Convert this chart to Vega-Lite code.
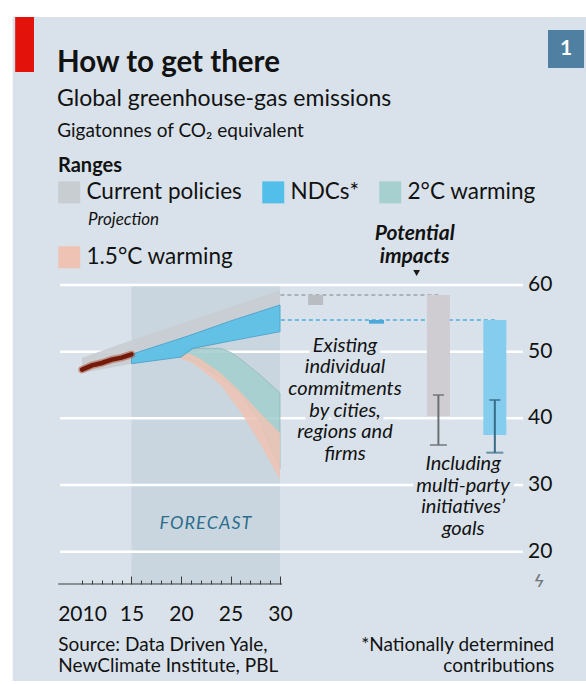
{
  "$schema": "https://vega.github.io/schema/vega-lite/v6.json",
  "width": 463,
  "height": 299,
  "autosize": {"type": "none"},
  "padding": {"left": 60, "top": 285, "right": 63, "bottom": 100},
  "background": "#ffffff",
  "title": {
    "text": "How to get there",
    "subtitle": "Global greenhouse-gas emissions",
    "anchor": "start",
    "frame": "group",
    "orient": "top",
    "offset": -95,
    "dx": -3,
    "font": "Lato",
    "fontSize": 29.5,
    "fontWeight": "bold",
    "color": "#121212",
    "subtitleFont": "Lato",
    "subtitleFontSize": 23,
    "subtitleColor": "#121212",
    "subtitlePadding": 10
  },
  "config": {
    "view": {"stroke": null},
    "font": "Lato",
    "text": {"font": "Lato", "color": "#121212"}
  },
  "resolve": {"axis": {"x": "independent"}},
  "datasets": {
    "forecast": [{"period": "Forecast", "start": 2015, "end": 2030}],
    "grid": [{"value": 20}, {"value": 30}, {"value": 40}, {"value": 50}, {"value": 60}],
    "history": [
      {"year": 2010, "emissions": 47.3},
      {"year": 2011, "emissions": 47.95},
      {"year": 2012, "emissions": 48.3},
      {"year": 2013, "emissions": 48.8},
      {"year": 2014, "emissions": 49.1},
      {"year": 2015, "emissions": 49.6}
    ],
    "bands": [
      {"scenario": "Current policies", "year": 2010, "low": 46.8, "high": 49.1},
      {"scenario": "Current policies", "year": 2015, "low": 48.2, "high": 51.7},
      {"scenario": "Current policies", "year": 2020, "low": 49.3, "high": 54.2},
      {"scenario": "Current policies", "year": 2025, "low": 51.8, "high": 56.7},
      {"scenario": "Current policies", "year": 2030, "low": 53.5, "high": 59.2},
      {"scenario": "NDCs*", "year": 2015, "low": 48.2, "high": 49.6},
      {"scenario": "NDCs*", "year": 2020, "low": 49.2, "high": 52.0},
      {"scenario": "NDCs*", "year": 2021.2, "low": 50.5, "high": 52.6},
      {"scenario": "NDCs*", "year": 2025, "low": 51.6, "high": 54.6},
      {"scenario": "NDCs*", "year": 2030, "low": 53.0, "high": 57.0},
      {"scenario": "2°C warming", "year": 2020, "low": 49.1, "high": 50.0},
      {"scenario": "2°C warming", "year": 2021, "low": 48.8, "high": 50.4},
      {"scenario": "2°C warming", "year": 2022, "low": 48.0, "high": 50.5},
      {"scenario": "2°C warming", "year": 2024, "low": 46.2, "high": 50.5},
      {"scenario": "2°C warming", "year": 2025, "low": 45.0, "high": 49.9},
      {"scenario": "2°C warming", "year": 2026, "low": 43.6, "high": 48.9},
      {"scenario": "2°C warming", "year": 2028, "low": 39.5, "high": 46.5},
      {"scenario": "2°C warming", "year": 2030, "low": 32.5, "high": 43.8},
      {"scenario": "1.5°C warming", "year": 2020, "low": 48.9, "high": 49.9},
      {"scenario": "1.5°C warming", "year": 2021, "low": 48.4, "high": 49.6},
      {"scenario": "1.5°C warming", "year": 2022, "low": 47.4, "high": 48.9},
      {"scenario": "1.5°C warming", "year": 2024, "low": 45.0, "high": 46.8},
      {"scenario": "1.5°C warming", "year": 2026, "low": 41.0, "high": 44.0},
      {"scenario": "1.5°C warming", "year": 2028, "low": 36.2, "high": 40.8},
      {"scenario": "1.5°C warming", "year": 2030, "low": 30.8, "high": 37.8}
    ],
    "impacts": [
      {"scenario": "Current policies", "measure": "Existing individual commitments", "pos": 2033.6, "top": 58.5, "bottom": 57.0},
      {"scenario": "NDCs*", "measure": "Existing individual commitments", "pos": 2039.75, "top": 54.75, "bottom": 54.2},
      {"scenario": "Current policies", "measure": "Including multi-party initiatives", "pos": 2046.0, "top": 58.5, "bottom": 40.3, "errLow": 36.0, "errHigh": 43.5},
      {"scenario": "NDCs*", "measure": "Including multi-party initiatives", "pos": 2051.7, "top": 54.75, "bottom": 37.5, "errLow": 34.85, "errHigh": 42.75}
    ]
  },
  "layer": [
    {
      "data": {"values": [{}]},
      "mark": {"type": "rect", "color": "#d9e2ea"},
      "encoding": {
        "x": {"datum": 2003.0, "type": "quantitative", "axis": null},
        "x2": {"datum": 2062},
        "y": {"datum": 100.2, "type": "quantitative", "axis": null},
        "y2": {"datum": 0.6}
      }
    },
    {
      "data": {"values": [{}]},
      "mark": {"type": "rect", "color": "#e3120b"},
      "encoding": {
        "x": {"datum": 2003.25, "type": "quantitative", "axis": null},
        "x2": {"datum": 2005.15},
        "y": {"datum": 100.2, "type": "quantitative", "axis": null},
        "y2": {"datum": 91.95}
      }
    },
    {
      "data": {"values": [{}]},
      "mark": {"type": "rect", "color": "#4f7fa1"},
      "encoding": {
        "x": {"datum": 2057.07, "type": "quantitative", "axis": null},
        "x2": {"datum": 2060.71},
        "y": {"datum": 98.25, "type": "quantitative", "axis": null},
        "y2": {"datum": 92.55}
      }
    },
    {
      "data": {"values": [{}]},
      "mark": {"type": "text", "text": "1", "color": "#ffffff", "fontSize": 21, "fontWeight": "bold", "align": "center", "baseline": "middle"},
      "encoding": {
        "x": {"datum": 2058.89, "type": "quantitative", "axis": null},
        "y": {"datum": 95.4, "type": "quantitative", "axis": null}
      }
    },
    {
      "data": {"name": "forecast"},
      "mark": {"type": "rect", "color": "#c9d6df"},
      "encoding": {
        "x": {
          "field": "start", "type": "quantitative",
          "scale": {"domain": [2007.778, 2054.545], "nice": false, "zero": false, "padding": 0},
          "axis": {
            "orient": "bottom", "values": [2010, 2015, 2020, 2025, 2030], "format": "d",
            "labelExpr": "datum.value == 2010 ? '2010' : substring(datum.label, 2)",
            "ticks": false, "tickSize": 0, "domain": false, "grid": false, "zindex": 2,
            "labelPadding": 19, "labelFontSize": 21, "labelFont": "Lato", "labelColor": "#121212",
            "labelAlign": "center", "labelBaseline": "top", "title": null, "labelFlush": false, "labelOverlap": false
          }
        },
        "x2": {"field": "end"},
        "y": {"datum": 60, "type": "quantitative", "axis": null},
        "y2": {"datum": 15.15}
      }
    },
    {
      "data": {"name": "grid"},
      "mark": {"type": "rule", "color": "#ffffff", "strokeWidth": 2.5},
      "encoding": {
        "y": {
          "field": "value", "type": "quantitative",
          "scale": {"domain": [15.15, 60], "nice": false, "zero": false, "padding": 0},
          "axis": null
        }
      }
    },
    {
      "data": {"name": "grid"},
      "mark": {"type": "text", "align": "left", "baseline": "middle", "dx": 5, "fontSize": 21, "color": "#121212"},
      "encoding": {
        "x": {"datum": 2054.545, "type": "quantitative", "axis": null},
        "y": {"field": "value", "type": "quantitative", "axis": null},
        "text": {"field": "value", "type": "quantitative", "format": "d"}
      }
    },
    {
      "data": {"name": "bands"},
      "transform": [{"filter": "datum.scenario === 'Current policies'"}],
      "mark": {"type": "area", "opacity": 0.9},
      "encoding": {
        "x": {
          "field": "year", "type": "quantitative",
          "axis": {
            "orient": "bottom", "values": [2010, 2011, 2012, 2013, 2014, 2016, 2017, 2018, 2019, 2021, 2022, 2023, 2024, 2026, 2027, 2028, 2029],
            "ticks": true, "tickSize": -4, "tickColor": "#3a3a3a", "tickWidth": 1, "zindex": 2,
            "labels": false, "domain": false, "grid": false, "title": null
          }
        },
        "y": {"field": "high", "type": "quantitative", "axis": null},
        "y2": {"field": "low"},
        "color": {
          "field": "scenario", "type": "nominal",
          "scale": {
            "domain": ["Current policies", "NDCs*", "2°C warming", "1.5°C warming"],
            "range": ["#c8cdd2", "#52bfea", "#a6d0cf", "#eec3b3"]
          },
          "legend": {
            "orient": "none", "legendX": -2, "legendY": -129,
            "direction": "horizontal", "columns": 3,
            "title": "Ranges", "titleFont": "Lato", "titleFontSize": 20, "titleFontWeight": "bold", "titleColor": "#121212", "titlePadding": 5,
            "labelFont": "Lato", "labelFontSize": 22.5, "labelColor": "#121212", "labelOffset": 6, "labelLimit": 300,
            "symbolType": "square", "symbolSize": 484, "symbolOpacity": 1, "symbolStrokeWidth": 0,
            "columnPadding": 20, "rowPadding": 42, "padding": 0
          }
        }
      }
    },
    {
      "data": {"name": "bands"},
      "transform": [{"filter": "datum.scenario === '2°C warming'"}],
      "mark": {"type": "area", "opacity": 0.9, "stroke": "#8fb4b6", "strokeWidth": 0.8},
      "encoding": {
        "x": {"field": "year", "type": "quantitative", "axis": null},
        "y": {"field": "high", "type": "quantitative", "axis": null},
        "y2": {"field": "low"},
        "color": {"field": "scenario", "type": "nominal", "legend": null}
      }
    },
    {
      "data": {"name": "bands"},
      "transform": [{"filter": "datum.scenario === '1.5°C warming'"}],
      "mark": {"type": "area", "opacity": 0.85},
      "encoding": {
        "x": {"field": "year", "type": "quantitative", "axis": null},
        "y": {"field": "high", "type": "quantitative", "axis": null},
        "y2": {"field": "low"},
        "color": {"field": "scenario", "type": "nominal", "legend": null}
      }
    },
    {
      "data": {"name": "bands"},
      "transform": [{"filter": "datum.scenario === 'NDCs*'"}],
      "mark": {"type": "area", "opacity": 0.85, "stroke": "#3f9fcf", "strokeWidth": 1},
      "encoding": {
        "x": {"field": "year", "type": "quantitative", "axis": null},
        "y": {"field": "high", "type": "quantitative", "axis": null},
        "y2": {"field": "low"},
        "color": {"field": "scenario", "type": "nominal", "legend": null}
      }
    },
    {
      "data": {"name": "history"},
      "mark": {"type": "line", "color": "#b4553c", "strokeWidth": 7.5, "opacity": 0.55, "strokeCap": "round"},
      "encoding": {
        "x": {"field": "year", "type": "quantitative", "axis": null},
        "y": {"field": "emissions", "type": "quantitative", "axis": null}
      }
    },
    {
      "data": {"name": "history"},
      "mark": {"type": "line", "color": "#741a0a", "strokeWidth": 4.5, "strokeCap": "round"},
      "encoding": {
        "x": {
          "field": "year", "type": "quantitative",
          "axis": {
            "orient": "bottom", "values": [2015, 2020, 2025, 2030],
            "ticks": true, "tickSize": -8, "tickColor": "#3a3a3a", "tickWidth": 1, "zindex": 2,
            "labels": false, "domain": false, "grid": false, "title": null
          }
        },
        "y": {"field": "emissions", "type": "quantitative", "axis": null}
      }
    },
    {
      "data": {"values": [{}]},
      "mark": {"type": "rule", "color": "#3a3a3a", "strokeWidth": 1.2},
      "encoding": {
        "x": {"datum": 2007.6, "type": "quantitative", "axis": null},
        "x2": {"datum": 2030.2},
        "y": {"datum": 15.15, "type": "quantitative", "axis": null}
      }
    },
    {
      "data": {"name": "impacts"},
      "transform": [{"filter": "datum.measure === 'Including multi-party initiatives'"}],
      "mark": {"type": "rule", "strokeDash": [4, 3], "strokeWidth": 1.5},
      "encoding": {
        "x": {"field": "pos", "type": "quantitative", "axis": null},
        "x2": {"datum": 2030},
        "y": {"field": "top", "type": "quantitative", "axis": null},
        "stroke": {"condition": {"test": "datum.scenario === 'NDCs*'", "value": "#4aaedc"}, "value": "#9ba2a8"}
      }
    },
    {
      "data": {"name": "impacts"},
      "transform": [{"filter": "datum.measure === 'Existing individual commitments'"}],
      "mark": {"type": "bar", "width": 15},
      "encoding": {
        "x": {"field": "pos", "type": "quantitative", "axis": null},
        "y": {"field": "top", "type": "quantitative", "axis": null},
        "y2": {"field": "bottom"},
        "fill": {"condition": {"test": "datum.scenario === 'NDCs*'", "value": "#4aa9da"}, "value": "#b9bcc0"}
      }
    },
    {
      "data": {"name": "impacts"},
      "transform": [{"filter": "datum.measure === 'Including multi-party initiatives'"}],
      "mark": {"type": "bar", "width": 23},
      "encoding": {
        "x": {"field": "pos", "type": "quantitative", "axis": null},
        "y": {"field": "top", "type": "quantitative", "axis": null},
        "y2": {"field": "bottom"},
        "fill": {"condition": {"test": "datum.scenario === 'NDCs*'", "value": "#85cdee"}, "value": "#cfcdd1"}
      }
    },
    {
      "data": {"name": "impacts"},
      "transform": [{"filter": "datum.measure === 'Including multi-party initiatives'"}],
      "mark": {"type": "rule", "strokeWidth": 2},
      "encoding": {
        "x": {"field": "pos", "type": "quantitative", "axis": null},
        "y": {"field": "errLow", "type": "quantitative", "axis": null},
        "y2": {"field": "errHigh"},
        "stroke": {"condition": {"test": "datum.scenario === 'NDCs*'", "value": "#376b86"}, "value": "#6b7075"}
      }
    },
    {
      "data": {"name": "impacts"},
      "transform": [{"filter": "datum.measure === 'Including multi-party initiatives'"}],
      "mark": {"type": "tick", "orient": "horizontal", "size": 11, "thickness": 2},
      "encoding": {
        "x": {"field": "pos", "type": "quantitative", "axis": null},
        "y": {"field": "errHigh", "type": "quantitative", "axis": null},
        "color": {"condition": {"test": "datum.scenario === 'NDCs*'", "value": "#376b86"}, "value": "#6b7075"}
      }
    },
    {
      "data": {"name": "impacts"},
      "transform": [{"filter": "datum.measure === 'Including multi-party initiatives'"}],
      "mark": {"type": "tick", "orient": "horizontal", "size": 17, "thickness": 2},
      "encoding": {
        "x": {"field": "pos", "type": "quantitative", "axis": null},
        "y": {"field": "errLow", "type": "quantitative", "axis": null},
        "color": {"condition": {"test": "datum.scenario === 'NDCs*'", "value": "#376b86"}, "value": "#6b7075"}
      }
    },
    {
      "data": {"values": [{}]},
      "mark": {"type": "text", "text": "F\u200aO\u200aR\u200aE\u200aC\u200aA\u200aS\u200aT", "fontSize": 18, "fontStyle": "italic", "color": "#2d6e8e", "align": "center", "baseline": "alphabetic"},
      "encoding": {
        "x": {"datum": 2022.47, "type": "quantitative", "axis": null},
        "y": {"datum": 23.4, "type": "quantitative", "axis": null}
      }
    },
    {
      "data": {"values": [{}]},
      "mark": {"type": "text", "text": ["Existing", "individual", "commitments", "by cities,", "regions and", "firms"], "fontSize": 20, "fontStyle": "italic", "lineHeight": 21.7, "align": "center", "baseline": "alphabetic", "color": "#d9e2ea", "stroke": "#d9e2ea", "strokeWidth": 9, "strokeJoin": "round"},
      "encoding": {
        "x": {"datum": 2036.57, "type": "quantitative", "axis": null},
        "y": {"datum": 50.0, "type": "quantitative", "axis": null}
      }
    },
    {
      "data": {"values": [{}]},
      "mark": {"type": "text", "text": ["Existing", "individual", "commitments", "by cities,", "regions and", "firms"], "fontSize": 20, "fontStyle": "italic", "lineHeight": 21.7, "align": "center", "baseline": "alphabetic", "color": "#121212"},
      "encoding": {
        "x": {"datum": 2036.57, "type": "quantitative", "axis": null},
        "y": {"datum": 50.0, "type": "quantitative", "axis": null}
      }
    },
    {
      "data": {"values": [{}]},
      "mark": {"type": "text", "text": ["Including", "multi-party", "initiatives’", "goals"], "fontSize": 20, "fontStyle": "italic", "lineHeight": 21.7, "align": "center", "baseline": "alphabetic", "color": "#d9e2ea", "stroke": "#d9e2ea", "strokeWidth": 9, "strokeJoin": "round"},
      "encoding": {
        "x": {"datum": 2048.5, "type": "quantitative", "axis": null},
        "y": {"datum": 32.25, "type": "quantitative", "axis": null}
      }
    },
    {
      "data": {"values": [{}]},
      "mark": {"type": "text", "text": ["Including", "multi-party", "initiatives’", "goals"], "fontSize": 20, "fontStyle": "italic", "lineHeight": 21.7, "align": "center", "baseline": "alphabetic", "color": "#121212"},
      "encoding": {
        "x": {"datum": 2048.5, "type": "quantitative", "axis": null},
        "y": {"datum": 32.25, "type": "quantitative", "axis": null}
      }
    },
    {
      "data": {"values": [{}]},
      "mark": {"type": "text", "text": ["Potential", "impacts"], "fontSize": 21, "fontStyle": "italic", "fontWeight": "bold", "lineHeight": 23, "align": "center", "baseline": "alphabetic", "color": "#121212"},
      "encoding": {
        "x": {"datum": 2043.6, "type": "quantitative", "axis": null},
        "y": {"datum": 66.75, "type": "quantitative", "axis": null}
      }
    },
    {
      "data": {"values": [{}]},
      "mark": {"type": "point", "shape": "triangle-down", "filled": true, "size": 45, "color": "#1a1a1a", "opacity": 1},
      "encoding": {
        "x": {"datum": 2043.8, "type": "quantitative", "axis": null},
        "y": {"datum": 61.8, "type": "quantitative", "axis": null}
      }
    },
    {
      "data": {"values": [{}]},
      "mark": {"type": "text", "text": "Projection", "fontSize": 17, "fontStyle": "italic", "align": "left", "baseline": "alphabetic", "color": "#121212"},
      "encoding": {
        "x": {"datum": 2010.61, "type": "quantitative", "axis": null},
        "y": {"datum": 69.0, "type": "quantitative", "axis": null}
      }
    },
    {
      "data": {"values": [{}]},
      "mark": {"type": "text", "text": "Gigatonnes of CO₂ equivalent", "fontSize": 19, "align": "left", "baseline": "alphabetic", "color": "#121212"},
      "encoding": {
        "x": {"datum": 2007.5, "type": "quantitative", "axis": null},
        "y": {"datum": 82.2, "type": "quantitative", "axis": null}
      }
    },
    {
      "data": {"values": [{}]},
      "mark": {"type": "text", "text": ["Source: Data Driven Yale,", "NewClimate Institute, PBL"], "fontSize": 19, "lineHeight": 21.5, "align": "left", "baseline": "alphabetic", "color": "#121212"},
      "encoding": {
        "x": {"datum": 2007.6, "type": "quantitative", "axis": null},
        "y": {"datum": 5.11, "type": "quantitative", "axis": null}
      }
    },
    {
      "data": {"values": [{}]},
      "mark": {"type": "text", "text": ["*Nationally determined", "contributions"], "fontSize": 19, "lineHeight": 21.5, "align": "right", "baseline": "alphabetic", "color": "#121212"},
      "encoding": {
        "x": {"datum": 2057.7, "type": "quantitative", "axis": null},
        "y": {"datum": 5.11, "type": "quantitative", "axis": null}
      }
    },
    {
      "data": {"values": [{}]},
      "mark": {"type": "text", "text": "ϟ", "fontSize": 19, "fontStyle": "italic", "align": "center", "baseline": "middle", "color": "#6f767b"},
      "encoding": {
        "x": {"datum": 2056.2, "type": "quantitative", "axis": null},
        "y": {"datum": 16.1, "type": "quantitative", "axis": null}
      }
    }
  ]
}
